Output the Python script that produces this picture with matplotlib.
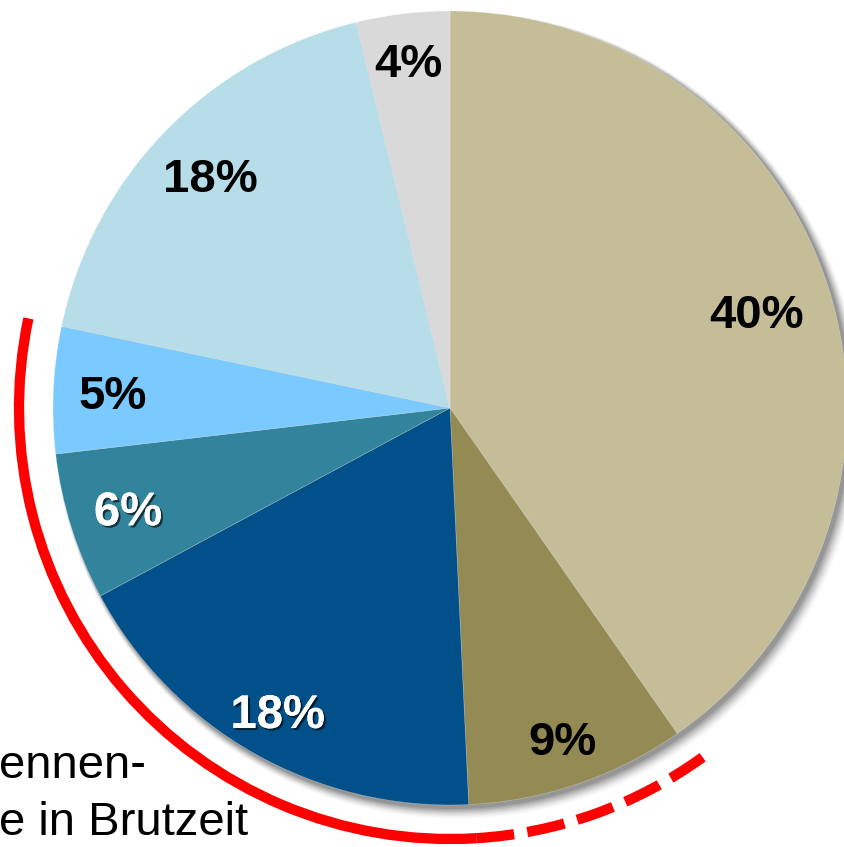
import numpy as np
import matplotlib
matplotlib.use("Agg")
import matplotlib.pyplot as plt
from matplotlib.patches import Arc, Circle
import matplotlib.patheffects as pe

# data
labels = ["40%", "9%", "18%", "6%", "5%", "18%", "4%"]
values = [40.3, 8.95, 17.9, 6.0, 5.15, 17.9, 3.8]
colors = ["#C4BD97", "#948A54", "#02508A", "#31849B", "#7AC9FF", "#B7DDE8", "#D9D9D9"]
label_colors = ["black", "black", "white", "white", "black", "black", "black"]
label_radius = [0.81, 0.88, 0.88, 0.85, 0.85, 0.84, 0.88]
caption_lines = ["ennen-", "e in Brutzeit"]

W, H = 844, 847
fig = plt.figure(figsize=(W / 100, H / 100), dpi=100)
ax = fig.add_axes([0, 0, 1, 1])
cx, cy, R = 450, H - 408, 397

# soft shadow
for i, a in enumerate(np.linspace(0.10, 0.02, 8)):
    ax.add_patch(Circle((cx + 3 + i * 0.6, cy - 3 - i * 0.6), R + 1 + i * 0.8, color="black",
                        alpha=a, lw=0, zorder=0))

wedges, _ = ax.pie(values, colors=colors, startangle=90, counterclock=False,
                   center=(cx, cy), radius=R,
                   wedgeprops=dict(linewidth=0.4, edgecolor="#ffffff60"))
for w in wedges:
    w.set_zorder(2)

# labels
total = sum(values)
start = 90.0
for lab, v, col, rf in zip(labels, values, label_colors, label_radius):
    mid = start - v / total * 360 / 2
    start -= v / total * 360
    x = cx + rf * R * np.cos(np.radians(mid))
    y = cy + rf * R * np.sin(np.radians(mid)) - 4
    effects = []
    if col == "white":
        effects = [pe.withSimplePatchShadow(offset=(1.5, -1.5), shadow_rgbFace="black", alpha=0.6), pe.Normal()]
    ax.text(x, y, lab, ha="center", va="center", fontsize=34, fontweight="bold",
            family="Liberation Sans", color=col, path_effects=effects, zorder=5)

# red arcs
Rr = 431
ax.add_patch(Arc((cx, cy), 2 * Rr, 2 * Rr, theta1=168, theta2=273.5, color="#FF0000",
                 lw=7.4, capstyle="butt", zorder=3))
ax.add_patch(Arc((cx, cy), 2 * Rr, 2 * Rr, theta1=273.5, theta2=306, color="#FF0000",
                 lw=7.4, linestyle=(0, (3.7, 1.3)), capstyle="butt", zorder=3))

# caption (clipped at left)
ax.text(-1, H - 778, caption_lines[0], ha="left", va="baseline", fontsize=34,
        family="Liberation Sans", color="black", zorder=4)
ax.text(-1, H - 835, caption_lines[1], ha="left", va="baseline", fontsize=34,
        family="Liberation Sans", color="black", zorder=4)

ax.set_xlim(0, W)
ax.set_ylim(0, H)
ax.set_aspect("auto")
ax.axis("off")
fig.savefig("out.png", dpi=100, facecolor="white")
